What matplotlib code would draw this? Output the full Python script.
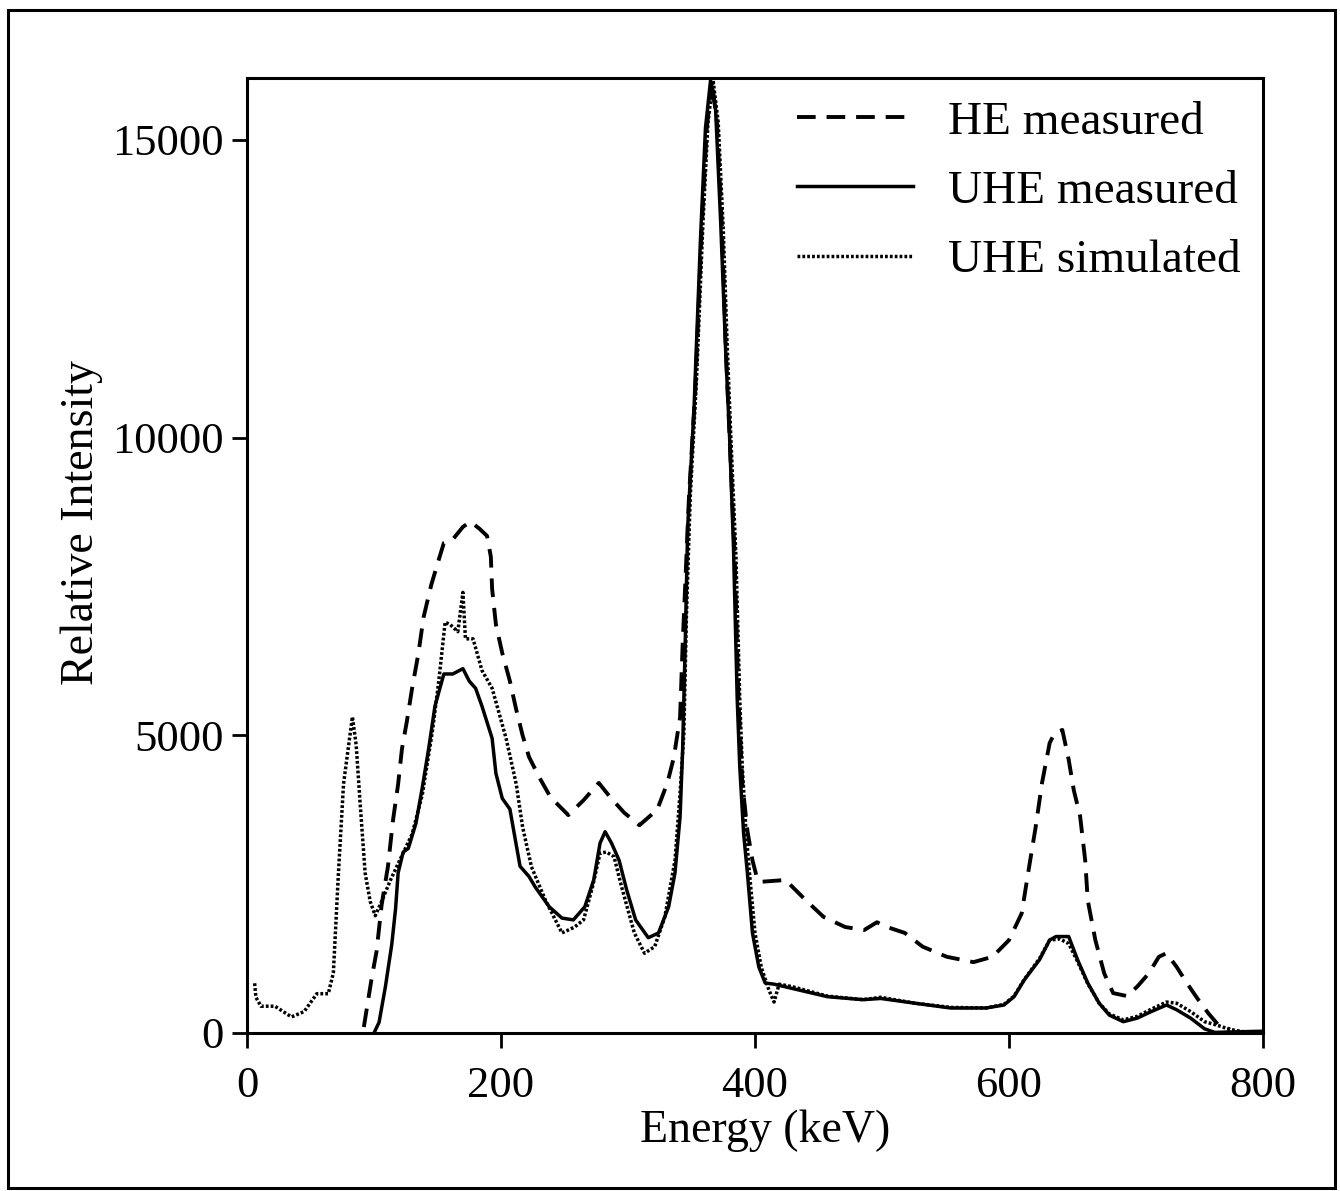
import matplotlib
matplotlib.use("Agg")
import matplotlib.pyplot as plt
from matplotlib.patches import Rectangle

plt.rcParams["font.family"] = ["Liberation Serif", "DejaVu Serif"]

# HE measured (dashed)
he_e = [92, 98, 102, 106, 111, 115, 119, 122, 126, 130, 135, 139, 145, 150, 155, 162,
        170, 176, 183, 189, 192, 193, 196, 201, 207, 212, 217, 222, 230, 239, 253, 265,
        277, 286, 297, 309, 323, 331, 336, 341, 343, 345, 348, 353, 358, 362, 366, 370,
        374, 377, 380, 384, 387, 390, 394, 398, 402, 405, 424, 440, 454, 471, 486, 496,
        504, 518, 532, 551, 572, 587, 600, 610, 615, 621, 626, 632, 636, 642, 647, 651,
        656, 660, 662, 668, 675, 682, 693, 701, 710, 718, 724, 732, 740, 749, 757, 765, 774]
he_i = [100, 900, 1370, 2150, 2800, 3580, 4180, 4770, 5250, 5790, 6380, 6980, 7520, 7880, 8230, 8290,
        8500, 8590, 8470, 8350, 8000, 7460, 6860, 6380, 5910, 5430, 5000, 4640, 4300, 3960, 3660, 3910,
        4200, 3960, 3700, 3490, 3750, 4200, 4620, 5300, 6500, 7500, 9000, 10800, 13500, 15200, 16000, 15300,
        13500, 11500, 10000, 8000, 5600, 4200, 3400, 2900, 2570, 2540, 2570, 2230, 1950, 1780, 1730, 1860,
        1780, 1680, 1450, 1280, 1190, 1280, 1560, 2010, 2680, 3460, 4200, 4870, 5040, 5090, 4590, 4080,
        3640, 2900, 2230, 1560, 1000, 670, 620, 780, 1000, 1280, 1340, 1110, 840, 560, 330, 130, 60]

# UHE measured (solid)
uhe_e = [100, 104, 109, 114, 117, 119, 123, 127, 133, 138, 143, 148, 155, 162, 170, 175,
         180, 185, 193, 196, 201, 207, 215, 222, 227, 232, 238, 248, 257, 266, 273, 278,
         282, 287, 293, 299, 306, 316, 324, 332, 337, 341, 343, 345, 347, 352, 357, 361,
         365, 369, 373, 377, 380, 383, 386, 388, 391, 394, 398, 403, 408, 415, 429, 457,
         485, 499, 526, 554, 582, 596, 604, 612, 624, 632, 637, 647, 654, 662, 671, 679,
         690, 701, 712, 724, 732, 743, 754, 762, 780, 800]
uhe_i = [0, 180, 780, 1490, 2090, 2690, 3040, 3100, 3520, 4120, 4770, 5490, 6030, 6030, 6120, 5910,
         5790, 5490, 4950, 4360, 3940, 3760, 2800, 2630, 2450, 2300, 2120, 1930, 1900, 2120, 2570, 3190,
         3380, 3190, 2900, 2400, 1900, 1600, 1680, 2120, 2690, 3630, 4750, 6500, 8500, 10500, 13300, 15200,
         16000, 15500, 13600, 11400, 10000, 8200, 5600, 4470, 3360, 2690, 1680, 1110, 840, 820, 750, 610,
         560, 580, 500, 420, 420, 470, 610, 890, 1230, 1560, 1620, 1620, 1230, 840, 500, 300,
         190, 250, 360, 470, 390, 250, 70, 10, 20, 30]

# UHE simulated (dotted)
sim_e = [6, 7, 11, 22, 35, 45, 55, 64, 68, 72, 76, 80, 83, 86, 89, 93,
         97, 101, 106, 113, 122, 130, 138, 146, 151, 156, 160, 166, 170, 172, 178, 185,
         193, 204, 212, 217, 224, 235, 248, 258, 265, 272, 278, 283, 289, 295, 305, 313,
         321, 329, 337, 341, 344, 346, 349, 354, 359, 363, 367, 371, 375, 378, 381, 385,
         388, 390, 393, 396, 400, 405, 411, 415, 419, 429, 457, 485, 499, 526, 554, 582,
         596, 604, 612, 624, 632, 640, 647, 654, 662, 671, 679, 690, 701, 712, 724, 732,
         743, 754, 764, 774, 785, 800]
sim_i = [835, 600, 450, 450, 270, 360, 660, 660, 1010, 2690, 4180, 4830, 5310, 4830, 3880, 2690,
         2210, 1970, 2210, 2570, 2980, 3340, 4000, 5070, 5910, 6900, 6860, 6740, 7400, 6620, 6620, 6090,
         5790, 4950, 4180, 3460, 2790, 2230, 1680, 1780, 1900, 2450, 3020, 3040, 2960, 2450, 1680, 1340,
         1450, 1950, 2900, 4030, 5040, 7000, 9000, 11000, 13600, 15300, 16000, 15300, 13500, 11600, 10000, 8000,
         5600, 4470, 3360, 2600, 1680, 1100, 720, 520, 820, 780, 620, 560, 600, 500, 430, 420,
         480, 620, 900, 1250, 1560, 1580, 1500, 1200, 830, 500, 320, 220, 280, 400, 520, 500,
         360, 190, 130, 60, 20, 20]

W, H = 1340, 1191
fig = plt.figure(figsize=(W / 100, H / 100), dpi=100)
ax = fig.add_axes([247 / W, 1 - 1033 / H, (1263 - 247) / W, (1033 - 78) / H])

ax.plot(he_e, he_i, color="black", lw=2.8, linestyle=(0, (4.8, 2.8)), label="HE measured")
ax.plot(uhe_e, uhe_i, color="black", lw=2.5, label="UHE measured")
ax.plot(sim_e, sim_i, color="black", lw=2.5, linestyle=(0, (0.8, 0.6)), label="UHE simulated")

ax.set_xlim(0, 800)
ax.set_ylim(0, 16040)
ax.set_xticks([0, 200, 400, 600, 800])
ax.set_yticks([0, 5000, 10000, 15000])
ax.tick_params(direction="out", length=11, width=2, labelsize=32)
ax.tick_params(axis="x", pad=13)
ax.tick_params(axis="y", pad=6)
for s in ax.spines.values():
    s.set_linewidth(2.2)
ax.set_xlabel("Energy (keV)", fontsize=33)
ax.set_ylabel("Relative Intensity", fontsize=33)
ax.xaxis.set_label_coords(0.51, -0.08)
ax.yaxis.set_label_coords(-0.142, 0.535)

ax.legend(loc="upper right", bbox_to_anchor=(0.978, 0.976), frameon=False, fontsize=34,
          handlelength=2.45, handletextpad=0.75, labelspacing=0.55, borderpad=0, borderaxespad=0)

fig.add_artist(Rectangle((8 / W, 1 - 1188 / H), (1335 - 8) / W, (1188 - 10) / H,
                         transform=fig.transFigure, fill=False, lw=2.2, color="black"))

fig.savefig("out.png", dpi=100)
